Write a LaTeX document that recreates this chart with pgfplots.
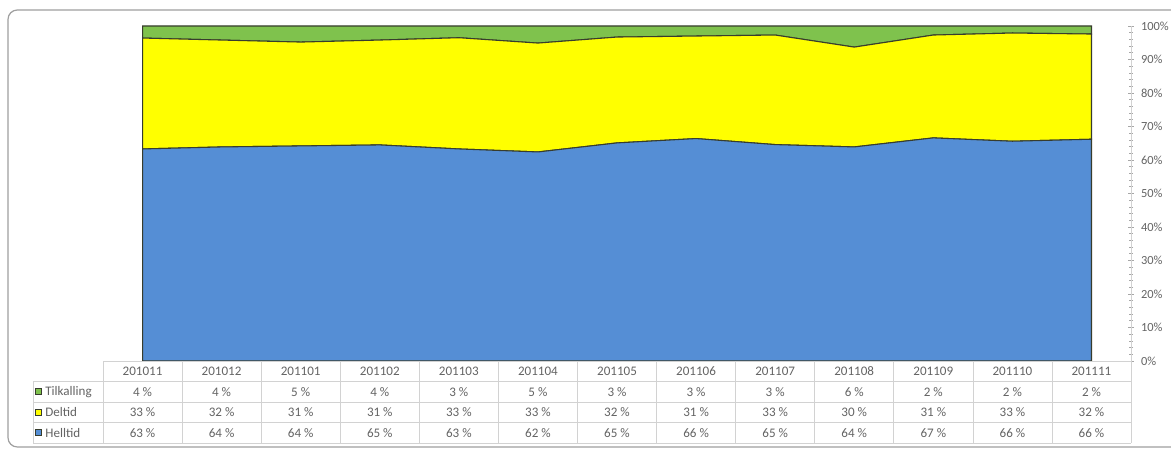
\documentclass[border=0pt]{standalone}
\usepackage{fontspec}
\setmainfont{Carlito}
\usepackage{pgfplots}
\pgfplotsset{compat=1.18}
\usepackage{pgfplotstable}
\definecolor{helltid}{RGB}{85,142,213}
\definecolor{deltid}{RGB}{255,255,0}
\definecolor{tilk}{RGB}{127,194,77}
\definecolor{txt}{RGB}{100,100,100}
\definecolor{grid}{RGB}{210,210,210}
\definecolor{edge}{RGB}{55,60,45}
\pgfplotstableread{
x H D T
0 63.3 33.1 3.6
1 63.9 31.9 4.2
2 64.2 31.0 4.8
3 64.5 31.3 4.2
4 63.3 33.2 3.5
5 62.4 32.5 5.1
6 65.1 31.6 3.3
7 66.4 30.6 3.0
8 64.6 32.7 2.7
9 63.9 29.8 6.3
10 66.6 30.7 2.7
11 65.6 32.3 2.1
12 66.2 31.4 2.4
}\data
\begin{document}
\begin{tikzpicture}[font=\fontsize{9.8}{11}\selectfont]
\useasboundingbox (0,0) rectangle (878.25pt,339pt);
\fill[white] (0,0) rectangle (878.25pt,339pt);
\draw[gray!75, line width=0.9pt, rounded corners=7pt] (6pt,3.75pt) rectangle (895pt,331.5pt);
\begin{axis}[
  at={(77.25pt,68.25pt)}, anchor=south west,
  scale only axis, width=771pt, height=251.25pt,
  xmin=-0.5, xmax=12.5, ymin=0, ymax=100,
  stack plots=y,
  axis x line=none,
  axis y line*=right,
  axis line style={grid, line width=0.5pt},
  ytick={0,10,...,100},
  yticklabels={0\%,10\%,20\%,30\%,40\%,50\%,60\%,70\%,80\%,90\%,100\%},
  minor y tick num=4,
  tick align=center,
  major tick length=4pt, minor tick length=3pt,
  tick style={gray!70, line width=0.5pt},
  yticklabel style={text=txt, anchor=west, xshift=2pt, font=\fontsize{9.3}{11}\selectfont},
  clip=false,
]
\addplot[fill=helltid, draw=edge, line width=0.8pt] table[x=x, y=H] {\data} \closedcycle;
\addplot[fill=deltid, draw=edge, line width=0.8pt] table[x=x, y=D] {\data} \closedcycle;
\addplot[fill=tilk, draw=edge, line width=0.8pt] table[x=x, y=T] {\data} \closedcycle;
\end{axis}
% data table
\begin{scope}[draw=grid, line width=0.5pt]
\draw (77.25pt,68.25pt) -- (848.25pt,68.25pt);
\foreach \yy in {52.875,37.5,22.125,6.75} {\draw (24.75pt,\yy pt) -- (848.25pt,\yy pt);}
\foreach \k in {0,...,13} {\draw ({77.25pt+\k*59.3077pt},6.75pt) -- ({77.25pt+\k*59.3077pt},68.25pt);}
\draw (24.75pt,6.75pt) -- (24.75pt,52.875pt);
\end{scope}
\begin{scope}[text=txt]
\foreach \lab [count=\i from 0] in {201011,201012,201101,201102,201103,201104,201105,201106,201107,201108,201109,201110,201111}
  {\node at ({77.25pt+(\i+0.5)*59.3077pt},60.5625pt) {\lab};}
\foreach \v [count=\i from 0] in {4,4,5,4,3,5,3,3,3,6,2,2,2}
  {\node at ({77.25pt+(\i+0.5)*59.3077pt},45.1875pt) {\v\ \%};}
\foreach \v [count=\i from 0] in {33,32,31,31,33,33,32,31,33,30,31,33,32}
  {\node at ({77.25pt+(\i+0.5)*59.3077pt},29.8125pt) {\v\ \%};}
\foreach \v [count=\i from 0] in {63,64,64,65,63,62,65,66,65,64,67,66,66}
  {\node at ({77.25pt+(\i+0.5)*59.3077pt},14.4375pt) {\v\ \%};}
\node[anchor=west] at (30.5pt,45.1875pt) {Tilkalling};
\node[anchor=west] at (30.5pt,29.8125pt) {Deltid};
\node[anchor=west] at (30.5pt,14.4375pt) {Helltid};
\end{scope}
\filldraw[fill=tilk, draw=edge, line width=0.6pt] (26.4pt,42.9pt) rectangle (31.2pt,47.7pt);
\filldraw[fill=deltid, draw=edge, line width=0.6pt] (26.4pt,27.5pt) rectangle (31.2pt,32.3pt);
\filldraw[fill=helltid, draw=edge, line width=0.6pt] (26.4pt,12.1pt) rectangle (31.2pt,16.9pt);
\end{tikzpicture}
\end{document}
